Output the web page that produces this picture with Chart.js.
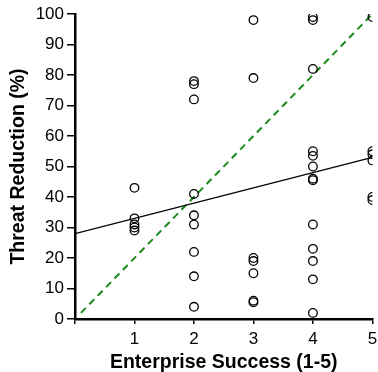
<!DOCTYPE html>
<html>
<head>
<meta charset="utf-8">
<script src="https://cdn.jsdelivr.net/npm/chart.js@4/dist/chart.umd.min.js"></script>
<style>
  html, body { margin: 0; padding: 0; background: #fff; }
  .wrap { width: 378px; height: 372px; position: relative; }
</style>
</head>
<body>
<div class="wrap"><canvas id="chart1"></canvas></div>
<script>
// observed threat reduction (%) for each enterprise success score
const successLevels = [1, 2, 3, 4, 5]
const reductionScore1 = [43, 33, 31, 30, 29]
const reductionScore2 = [78, 77, 72, 41, 34, 31, 22, 14, 4]
const reductionScore3 = [98, 79, 20, 19, 15, 6, 5.5]
const reductionScore4 = [99, 98, 82, 55, 53.5, 50, 46, 45.5, 31, 23, 19, 13, 2]
const reductionScore5 = [99, 55, 54, 52, 40, 39]

// fitted regression line and 1:1 reference line (end points)
const fitX = [0, 5]
const fitY = [28, 53]
const refX = [0.1, 5]
const refY = [2, 100]

const xTicks = [0, 1, 2, 3, 4, 5]
const yTicks = [0, 10, 20, 30, 40, 50, 60, 70, 80, 90, 100]

const groups = [reductionScore1, reductionScore2, reductionScore3, reductionScore4, reductionScore5]
let points = []
groups.forEach((vals, i) => {
    vals.forEach(v => points.push({x: successLevels[i], y: v}))
})

const font = {family: '"Liberation Sans", Arial, sans-serif', size: 17}
const boldFont = {family: '"Liberation Sans", Arial, sans-serif', size: 19.5, weight: 'bold', lineHeight: 1.0}

const ctx1 = document.querySelector('#chart1')
new Chart(ctx1, {
    type: 'scatter',
    data: {
        datasets: [
            {
                data: points,
                pointStyle: 'circle',
                pointRadius: 4.3,
                borderColor: '#000',
                borderWidth: 1.3,
                backgroundColor: 'rgba(0,0,0,0)',
                order: 1
            },
            {
                data: fitX.map((x, i) => ({x, y: fitY[i]})),
                showLine: true,
                borderColor: '#000',
                borderWidth: 1.2,
                pointRadius: 0,
                order: 2
            },
            {
                data: refX.map((x, i) => ({x, y: refY[i]})),
                showLine: true,
                borderColor: '#1a8a1a',
                borderWidth: 2,
                borderDash: [7, 5],
                pointRadius: 0,
                order: 3
            }
        ]
    },
    options: {
        responsive: true,
        maintainAspectRatio: false,
        animation: false,
        layout: {padding: {top: 14, right: 5, left: 0, bottom: 0}},
        plugins: {legend: {display: false}, tooltip: {enabled: false}},
        scales: {
            x: {
                type: 'linear',
                min: 0, max: 5,
                afterBuildTicks: s => { s.ticks = xTicks.map(v => ({value: v})) },
                afterFit: s => { s.height = 53; s.paddingRight = 0; s.paddingLeft = 0 },
                ticks: {
                    color: '#000', font: font, padding: 5, maxRotation: 0,
                    callback: v => v === 0 ? '' : v
                },
                grid: {drawOnChartArea: false, tickLength: 5, color: '#000', lineWidth: 1.5},
                border: {color: '#000', width: 2.5},
                title: {display: true, text: 'Enterprise Success (1-5)', color: '#000', font: boldFont, padding: {top: 0, bottom: 0}}
            },
            y: {
                min: 0, max: 100,
                afterBuildTicks: s => { s.ticks = yTicks.map(v => ({value: v})) },
                afterFit: s => { s.width = 75; s.paddingTop = 0; s.paddingBottom = 0 },
                ticks: {color: '#000', font: font, padding: 3},
                grid: {drawOnChartArea: false, tickLength: 8, color: '#000', lineWidth: 1.5},
                border: {color: '#000', width: 2.5},
                title: {display: true, text: 'Threat Reduction (%)', color: '#000', font: boldFont, padding: {top: 9, bottom: 0}}
            }
        }
    }
})
</script>
</body>
</html>
